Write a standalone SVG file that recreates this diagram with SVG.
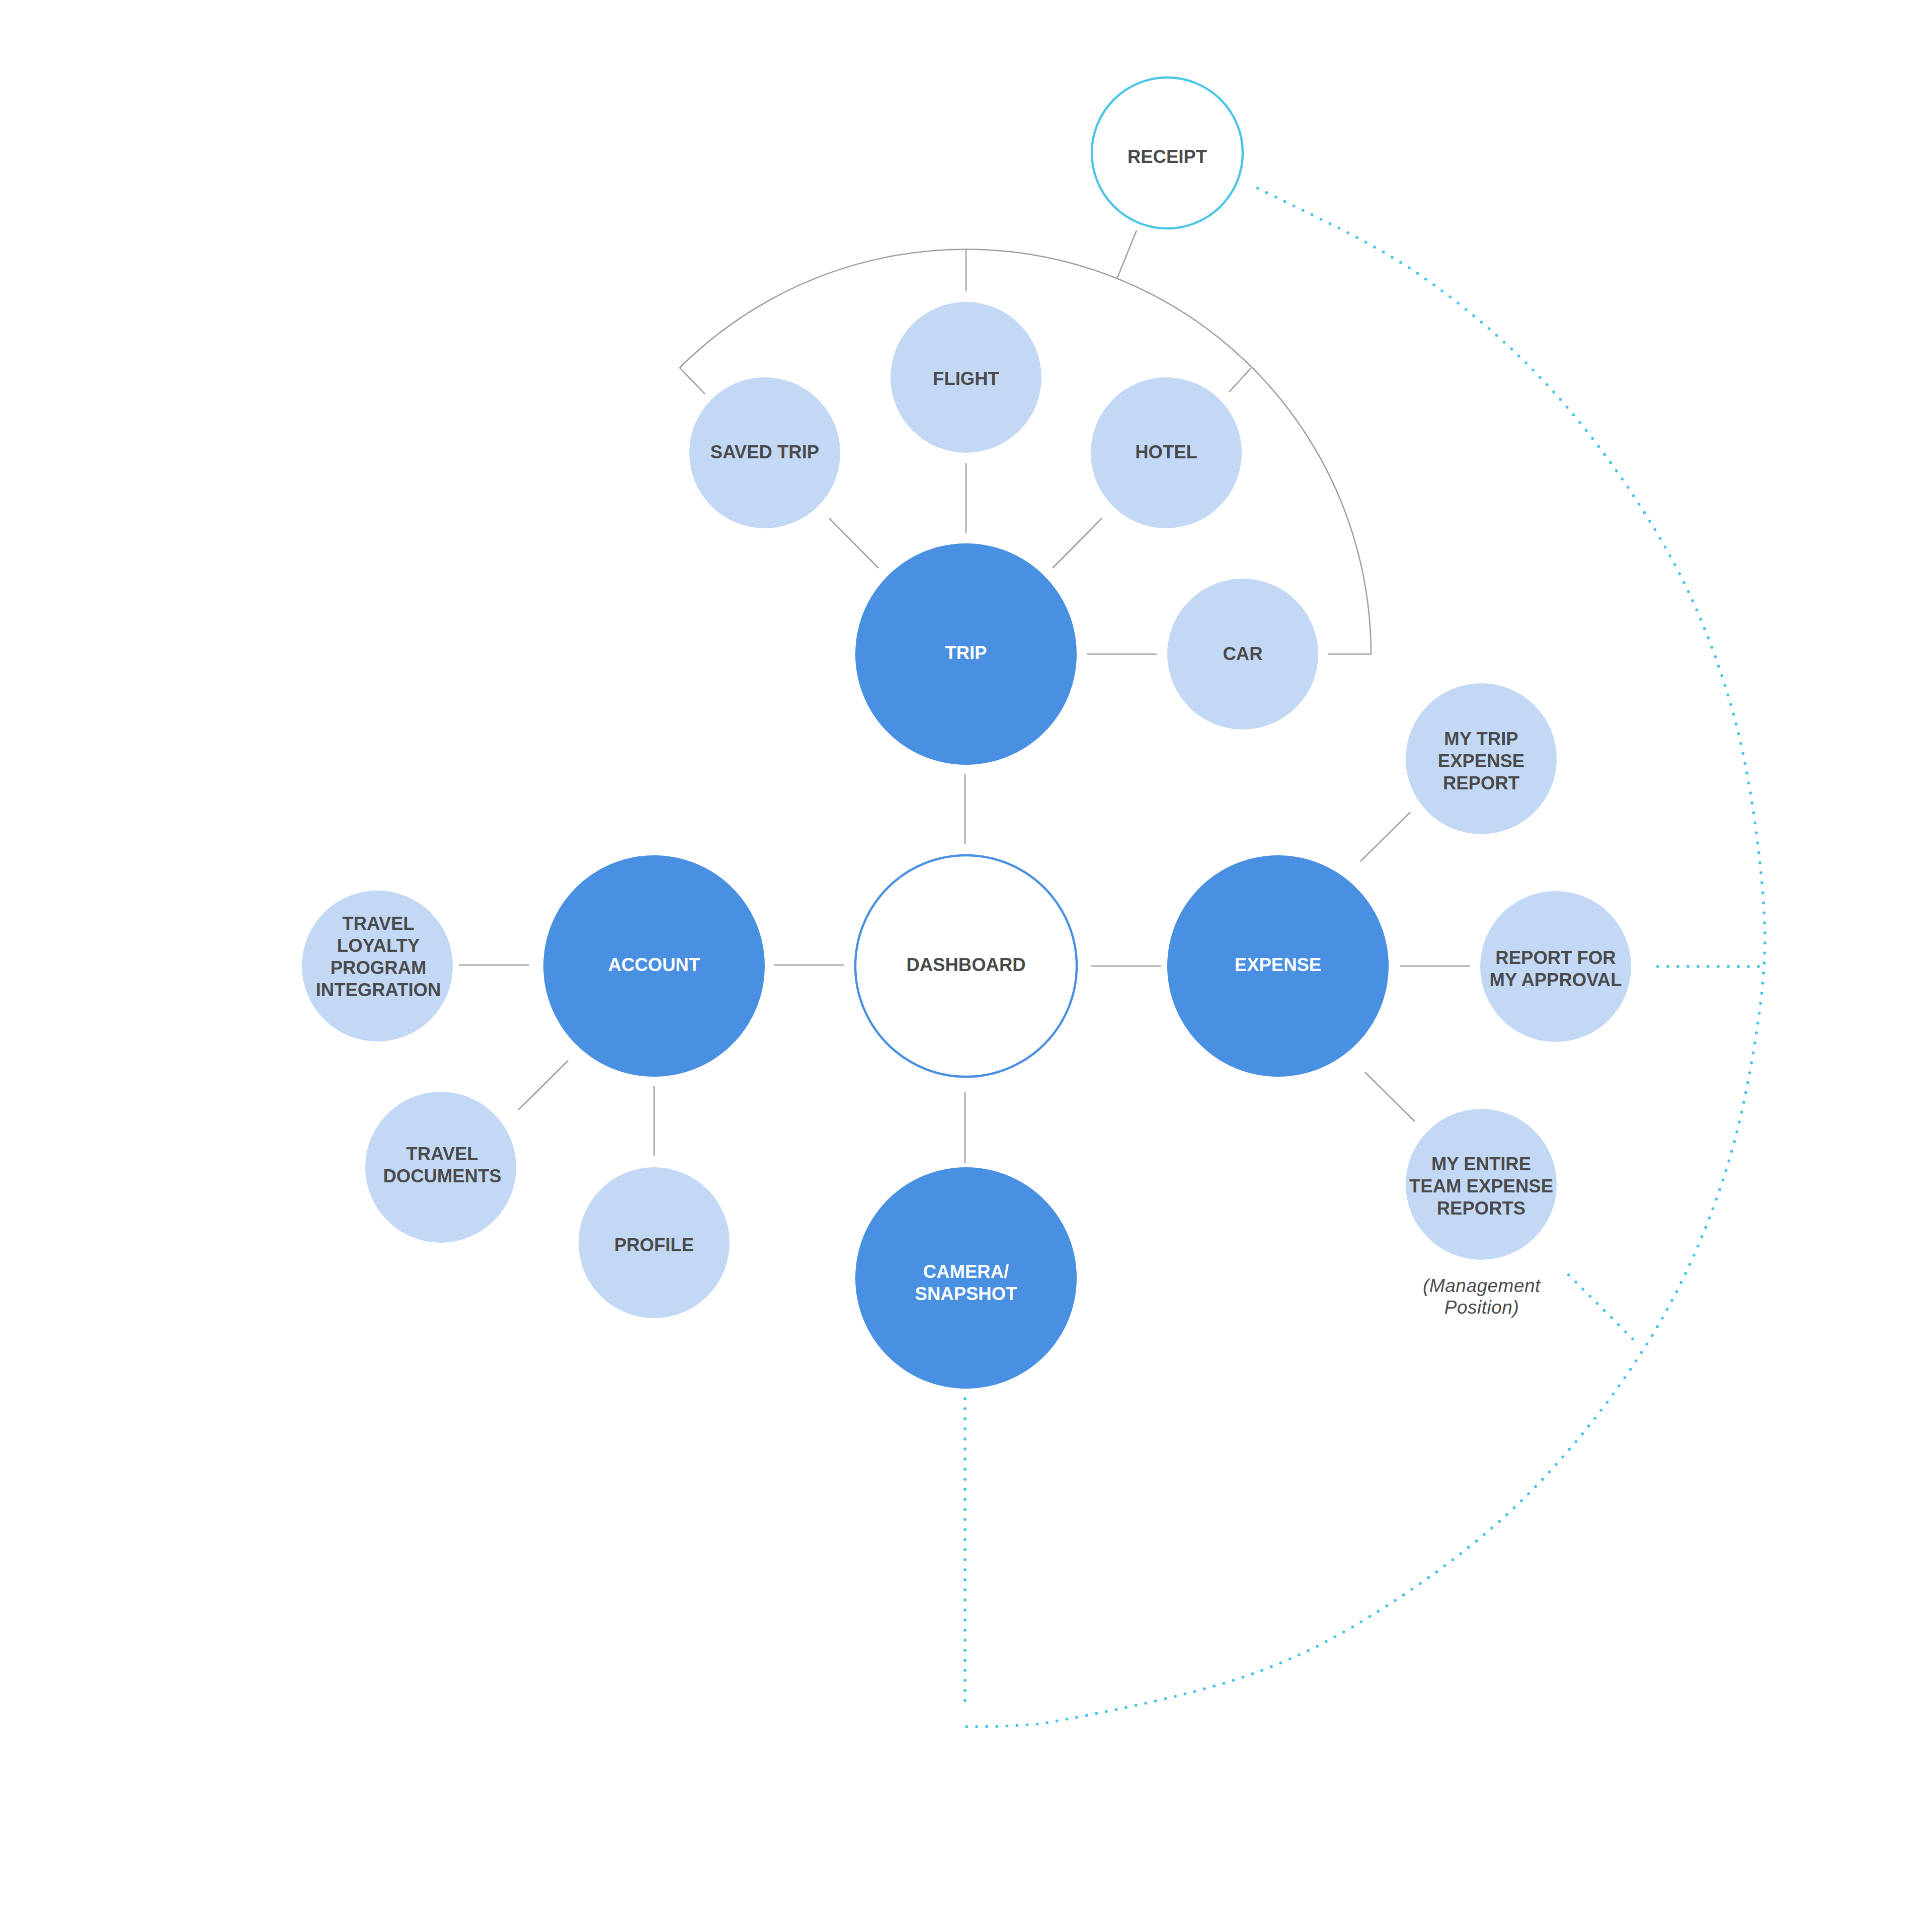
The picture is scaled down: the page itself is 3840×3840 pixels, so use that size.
<svg xmlns="http://www.w3.org/2000/svg" width="3840" height="3840" viewBox="0 0 3840 3840">
<style>
.bg{fill:#ffffff}
.main{fill:#4A90E2}
.sub{fill:#C2D8F5}
.hub{fill:#ffffff;stroke:#4A90E2;stroke-width:4.5}
.rcpt{fill:#ffffff;stroke:#4CC5E5;stroke-width:4.5}
text{font-family:"Liberation Sans",Arial,Helvetica,sans-serif;font-weight:bold;font-size:36.5px;text-anchor:middle}
.dk{fill:#4A4A4A}
.wt{fill:#ffffff}
.note{font-style:italic;font-weight:normal;font-size:37px;letter-spacing:0.5px;fill:#4A4A4A}
.ln{stroke:#9B9B9B;stroke-width:2.5;fill:none}
.dot{stroke:#4CC5E5;stroke-width:6;fill:none;stroke-dasharray:0 20;stroke-linecap:round}
</style>
<rect class="bg" x="0" y="0" width="3840" height="3840"/>
<g id="connectors">
  <path class="ln" d="M 1401 783 L 1351 731 A 805 805 0 0 1 2725 1300 L 2640 1300"/>
  <line class="ln" x1="2259" y1="458" x2="2220" y2="554"/>
  <line class="ln" x1="1920" y1="496" x2="1920" y2="579"/>
  <line class="ln" x1="2486" y1="732" x2="2443" y2="779"/>
  <line class="ln" x1="1648" y1="1030" x2="1746" y2="1129"/>
  <line class="ln" x1="1920" y1="920" x2="1920" y2="1059"/>
  <line class="ln" x1="2190" y1="1030" x2="2092" y2="1129"/>
  <line class="ln" x1="2160" y1="1300" x2="2300" y2="1300"/>
  <line class="ln" x1="1918" y1="1538" x2="1918" y2="1677"/>
  <line class="ln" x1="1538" y1="1918" x2="1677" y2="1918"/>
  <line class="ln" x1="2168" y1="1920" x2="2308" y2="1920"/>
  <line class="ln" x1="1918" y1="2170" x2="1918" y2="2312"/>
  <line class="ln" x1="912" y1="1918" x2="1052" y2="1918"/>
  <line class="ln" x1="1129" y1="2108" x2="1030" y2="2206"/>
  <line class="ln" x1="1300" y1="2158" x2="1300" y2="2297"/>
  <line class="ln" x1="2803" y1="1614" x2="2704" y2="1712"/>
  <line class="ln" x1="2782" y1="1920" x2="2922" y2="1920"/>
  <line class="ln" x1="2713" y1="2131" x2="2812" y2="2229"/>
  <path class="dot" d="M 2500 374 C 2553 402 2719 475.5 2817 543 C 2915 610.5 3005.8 688.2 3088 779 C 3170.2 869.8 3251.3 984.5 3310 1088 C 3368.7 1191.5 3408.3 1292.2 3440 1400 C 3471.7 1507.8 3490.2 1635.8 3500 1735 C 3509.8 1834.2 3511.7 1893 3499 1995 C 3486.3 2097 3461.7 2234.2 3424 2347 C 3386.3 2459.8 3337.5 2568.2 3273 2672 C 3208.5 2775.8 3123.2 2883.3 3037 2970 C 2950.8 3056.7 2850.7 3131.3 2756 3192 C 2661.3 3252.7 2581.5 3295.3 2469 3334 C 2356.5 3372.7 2172.3 3407.7 2081 3424 C 2044 3430.6 1961 3432 1921 3432"/>
  <line class="dot" x1="3295" y1="1921" x2="3500" y2="1921"/>
  <line class="dot" x1="3118" y1="2534" x2="3259" y2="2675"/>
  <line class="dot" x1="1918" y1="2780" x2="1918" y2="3400"/>
</g>
<g id="receipt"><circle class="rcpt" cx="2320" cy="304" r="150"/><text class="dk" x="2320" y="324">RECEIPT</text></g>
<g id="flight"><circle class="sub" cx="1920" cy="750" r="150"/><text class="dk" x="1920" y="765">FLIGHT</text></g>
<g id="saved-trip"><circle class="sub" cx="1520" cy="900" r="150"/><text class="dk" x="1520" y="911">SAVED TRIP</text></g>
<g id="hotel"><circle class="sub" cx="2318" cy="900" r="150"/><text class="dk" x="2318" y="911">HOTEL</text></g>
<g id="trip"><circle class="main" cx="1920" cy="1300" r="220"/><text class="wt" x="1920" y="1310">TRIP</text></g>
<g id="car"><circle class="sub" cx="2470" cy="1300" r="150"/><text class="dk" x="2470" y="1312">CAR</text></g>
<g id="dashboard"><circle class="hub" cx="1920" cy="1920" r="220"/><text class="dk" x="1920" y="1930">DASHBOARD</text></g>
<g id="account"><circle class="main" cx="1300" cy="1920" r="220"/><text class="wt" x="1300" y="1930">ACCOUNT</text></g>
<g id="expense"><circle class="main" cx="2540" cy="1920" r="220"/><text class="wt" x="2540" y="1930">EXPENSE</text></g>
<g id="camera"><circle class="main" cx="1920" cy="2540" r="220"/><text class="wt" x="1920" y="2540">CAMERA/</text><text class="wt" x="1920" y="2584">SNAPSHOT</text></g>
<g id="my-trip-expense-report"><circle class="sub" cx="2944" cy="1508" r="150"/><text class="dk" x="2944" y="1481">MY TRIP</text><text class="dk" x="2944" y="1525">EXPENSE</text><text class="dk" x="2944" y="1569">REPORT</text></g>
<g id="report-for-my-approval"><circle class="sub" cx="3092" cy="1921" r="150"/><text class="dk" x="3092" y="1916">REPORT FOR</text><text class="dk" x="3092" y="1960">MY APPROVAL</text></g>
<g id="team-expense-reports"><circle class="sub" cx="2944" cy="2354" r="150"/><text class="dk" x="2944" y="2326">MY ENTIRE</text><text class="dk" x="2944" y="2370">TEAM EXPENSE</text><text class="dk" x="2944" y="2414">REPORTS</text><text class="note" x="2945" y="2568">(Management</text><text class="note" x="2945" y="2611">Position)</text></g>
<g id="travel-loyalty"><circle class="sub" cx="750" cy="1920" r="150"/><text class="dk" x="752" y="1848">TRAVEL</text><text class="dk" x="752" y="1892">LOYALTY</text><text class="dk" x="752" y="1936">PROGRAM</text><text class="dk" x="752" y="1980">INTEGRATION</text></g>
<g id="travel-documents"><circle class="sub" cx="876" cy="2320" r="150"/><text class="dk" x="879" y="2306">TRAVEL</text><text class="dk" x="879" y="2350">DOCUMENTS</text></g>
<g id="profile"><circle class="sub" cx="1300" cy="2470" r="150"/><text class="dk" x="1300" y="2487">PROFILE</text></g>
</svg>
